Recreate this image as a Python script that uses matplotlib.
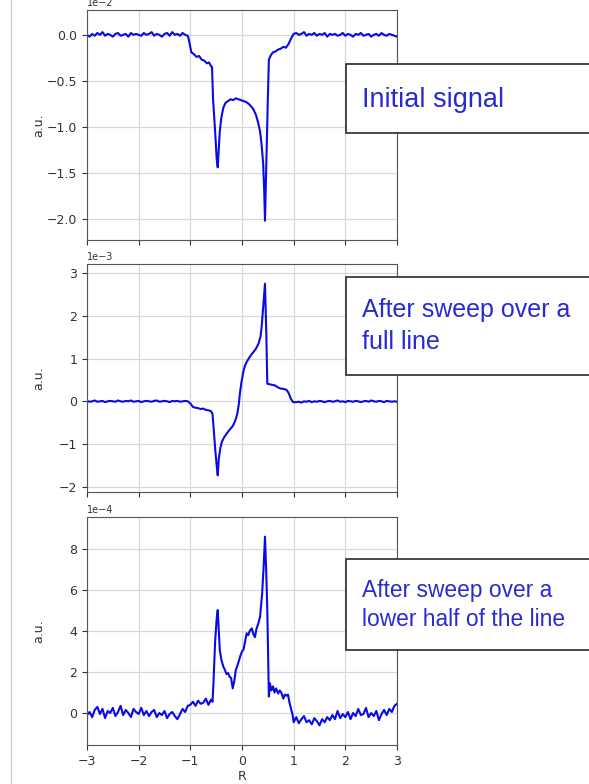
#!/usr/bin/env python3
import matplotlib
matplotlib.use('Agg')
import matplotlib.pyplot as plt
from matplotlib.patches import Rectangle
from matplotlib.lines import Line2D
import numpy as np

# ---- data ----
# baseline sample positions
left_x = np.round(np.arange(-3.0, -1.04, 0.05), 2)
right_x = np.round(np.arange(1.05, 3.001, 0.05), 2)

# panel 1: initial signal (x1e-2)
sig1_left = [0.00, -0.02, 0.01, -0.01, 0.02, 0.00, 0.03, -0.01, 0.01, 0.00,
             -0.02, 0.01, 0.02, -0.01, 0.00, 0.01, -0.02, 0.02, 0.00, 0.01,
             0.00, -0.01, 0.02, 0.00, 0.01, 0.03, -0.01, 0.01, 0.00, -0.02,
             0.01, 0.02, -0.01, 0.03, 0.00, 0.01, -0.01, 0.02, 0.00, -0.01]
sig1_mid_x = [-1.03, -0.98, -0.93, -0.88, -0.83, -0.78, -0.73, -0.68, -0.64, -0.60,
              -0.58, -0.56, -0.52, -0.49, -0.47, -0.45, -0.43, -0.40, -0.36, -0.32,
              -0.27, -0.22, -0.17, -0.12, -0.07, -0.02, 0.03, 0.08, 0.13, 0.18,
              0.22, 0.27, 0.31, 0.35, 0.38, 0.41, 0.43, 0.445, 0.47, 0.50,
              0.52, 0.56, 0.60, 0.65, 0.70, 0.75, 0.80, 0.85, 0.90, 0.95, 1.00]
sig1_mid = [-0.05, -0.19, -0.21, -0.24, -0.23, -0.27, -0.28, -0.31, -0.30, -0.34,
            -0.35, -0.70, -1.05, -1.35, -1.44, -1.25, -1.05, -0.90, -0.79, -0.74,
            -0.72, -0.70, -0.71, -0.69, -0.70, -0.71, -0.72, -0.73, -0.75, -0.78,
            -0.81, -0.87, -0.95, -1.05, -1.20, -1.40, -1.70, -2.02, -1.40, -0.70,
            -0.27, -0.22, -0.19, -0.18, -0.16, -0.15, -0.13, -0.14, -0.10, -0.04, 0.01]
sig1_right = [0.02, 0.00, 0.01, 0.03, -0.01, 0.01, 0.00, 0.02, -0.01, 0.01,
              0.00, 0.02, -0.02, 0.01, 0.00, 0.01, -0.01, 0.00, 0.02, -0.01,
              0.01, 0.00, -0.02, 0.01, 0.00, 0.02, -0.01, 0.00, 0.01, -0.02,
              0.00, 0.01, -0.01, 0.02, 0.00, -0.01, 0.01, 0.00, -0.01, -0.02]

# panel 2: after sweep over a full line (x1e-3)
sig2_left = [0.01, -0.01, 0.00, 0.02, -0.01, 0.00, 0.01, -0.02, 0.00, 0.01,
             0.00, -0.01, 0.02, 0.00, -0.01, 0.01, 0.00, 0.02, -0.01, 0.00,
             0.01, -0.02, 0.00, 0.01, 0.00, -0.01, 0.01, 0.02, -0.01, 0.00,
             0.01, 0.00, -0.02, 0.01, 0.00, 0.01, -0.01, 0.00, 0.01, 0.00]
sig2_mid_x = [-1.00, -0.95, -0.90, -0.85, -0.80, -0.75, -0.70, -0.65, -0.60, -0.57,
              -0.55, -0.52, -0.49, -0.47, -0.45, -0.42, -0.39, -0.35, -0.30, -0.25,
              -0.20, -0.17, -0.13, -0.09, -0.06, -0.04, -0.01, 0.03, 0.06, 0.09,
              0.14, 0.18, 0.22, 0.27, 0.32, 0.36, 0.38, 0.41, 0.445, 0.47,
              0.49, 0.53, 0.58, 0.64, 0.69, 0.74, 0.80, 0.86, 0.90, 0.95, 0.99]
sig2_mid = [-0.05, -0.13, -0.15, -0.16, -0.18, -0.17, -0.20, -0.21, -0.23, -0.30,
            -0.60, -1.10, -1.50, -1.73, -1.35, -1.10, -0.95, -0.85, -0.76, -0.68,
            -0.61, -0.56, -0.45, -0.29, -0.05, 0.19, 0.45, 0.72, 0.84, 0.92,
            1.02, 1.09, 1.15, 1.23, 1.35, 1.52, 1.74, 2.20, 2.75, 1.60,
            0.41, 0.40, 0.39, 0.37, 0.33, 0.30, 0.29, 0.27, 0.20, 0.05, -0.02]
sig2_right = [-0.02, -0.01, -0.03, 0.00, -0.01, 0.01, -0.02, 0.00, -0.01, 0.01,
              0.00, -0.02, 0.00, 0.01, -0.01, 0.00, 0.02, -0.01, 0.00, -0.02,
              0.01, 0.00, -0.01, 0.01, 0.00, -0.02, 0.00, 0.01, -0.01, 0.02,
              0.00, -0.01, 0.01, 0.00, -0.02, 0.01, 0.00, -0.01, 0.00, -0.01]

# panel 3: after sweep over a lower half of the line (x1e-4)
left_x3 = np.round(np.arange(-3.0, -1.19, 0.05), 2)
right_x3 = np.round(np.arange(1.0, 3.001, 0.05), 2)
sig3_left = [-0.10, 0.05, -0.20, 0.15, 0.30, -0.05, 0.20, -0.25, 0.10, 0.00,
             0.25, -0.15, 0.05, 0.35, -0.10, 0.15, 0.00, -0.20, 0.20, 0.05,
             -0.05, 0.25, -0.10, 0.10, -0.15, 0.05, 0.15, -0.20, 0.00, -0.10,
             0.10, -0.25, -0.05, 0.05, -0.15, -0.30, -0.05]
sig3_mid_x = [-1.15, -1.10, -1.05, -1.00, -0.95, -0.90, -0.85, -0.80, -0.75, -0.70,
              -0.65, -0.60, -0.57, -0.55, -0.52, -0.49, -0.47, -0.45, -0.43, -0.40,
              -0.36, -0.33, -0.30, -0.27, -0.24, -0.21, -0.18, -0.15, -0.12, -0.09,
              -0.06, -0.03, 0.00, 0.03, 0.06, 0.09, 0.12, 0.15, 0.19, 0.22,
              0.25, 0.28, 0.32, 0.35, 0.39, 0.42, 0.445, 0.47, 0.49, 0.51,
              0.52, 0.54, 0.57, 0.60, 0.63, 0.66, 0.70, 0.73, 0.76, 0.80,
              0.83, 0.86, 0.89, 0.92, 0.95, 0.98]
sig3_mid = [0.20, 0.05, 0.35, 0.40, 0.55, 0.35, 0.60, 0.45, 0.50, 0.70,
            0.40, 0.65, 0.55, 1.60, 3.50, 4.60, 5.02, 4.00, 3.07, 2.60,
            2.25, 2.10, 1.90, 1.95, 1.77, 1.70, 1.20, 1.55, 2.10, 2.30,
            2.55, 2.80, 3.00, 3.10, 3.50, 3.89, 3.80, 4.00, 4.13, 3.85,
            3.70, 4.10, 4.40, 4.70, 5.84, 7.20, 8.60, 6.80, 5.00, 2.00,
            0.80, 1.45, 1.10, 1.30, 1.00, 1.20, 0.95, 1.10, 1.00, 0.70,
            0.90, 0.85, 0.90, 0.50, 0.20, -0.10]
sig3_right = [-0.45, -0.20, -0.50, -0.30, -0.15, -0.45, -0.35, -0.55, -0.25, -0.40,
              -0.60, -0.30, -0.45, -0.20, -0.35, -0.10, -0.30, 0.10, -0.25, -0.05,
              -0.20, 0.05, -0.30, 0.00, -0.15, 0.20, -0.10, -0.05, 0.25, -0.20,
              0.00, -0.15, 0.10, -0.35, -0.05, 0.15, -0.10, 0.20, 0.05, 0.35, 0.45]

captions = ['Initial signal',
            'After sweep over a\nfull line',
            'After sweep over a\nlower half of the line']

x1 = np.concatenate([left_x, sig1_mid_x, right_x])
y1 = np.concatenate([sig1_left, sig1_mid, sig1_right]) * 1e-2
x2 = np.concatenate([left_x, sig2_mid_x, right_x])
y2 = np.concatenate([sig2_left, sig2_mid, sig2_right]) * 1e-3
x3 = np.concatenate([left_x3, sig3_mid_x, right_x3])
y3 = np.concatenate([sig3_left, sig3_mid, sig3_right]) * 1e-4

# ---- figure ----
W, H = 589, 784
fig = plt.figure(figsize=(W / 100, H / 100), dpi=100)
plt.rcParams['font.size'] = 8.5


def px_rect(left, top, right, bottom):
    return [left / W, 1 - bottom / H, (right - left) / W, (bottom - top) / H]


panels = [
    (x1, y1, px_rect(87, 10, 397, 240), (-2.23e-2, 0.27e-2)),
    (x2, y2, px_rect(87, 264, 397, 492), (-2.12e-3, 3.21e-3)),
    (x3, y3, px_rect(87, 517, 397, 745), (-1.56e-4, 9.56e-4)),
]

axes = []
for i, (xs, ys, rect, ylim) in enumerate(panels):
    ax = fig.add_axes(rect)
    ax.plot(xs, ys, color='#0a0ae6', lw=1.5)
    ax.set_xlim(-3, 3)
    ax.set_ylim(*ylim)
    ax.set_xticks([-3, -2, -1, 0, 1, 2, 3])
    ax.grid(True, color='#d8d8d8', lw=0.9)
    ax.set_axisbelow(True)
    for sp in ax.spines.values():
        sp.set_color('#555555')
    ax.ticklabel_format(axis='y', style='sci', scilimits=(0, 0))
    ax.tick_params(colors='#333333', labelsize=9)
    ax.yaxis.get_offset_text().set_fontsize(7)
    ax.yaxis.get_offset_text().set_color('#333333')
    ax.set_ylabel('a.u.', fontsize=9, color='#333333')
    ax.yaxis.set_label_coords(-0.135, 0.5)
    if i < 2:
        ax.tick_params(labelbottom=False)
    axes.append(ax)

axes[0].set_yticks([-2.0e-2, -1.5e-2, -1.0e-2, -0.5e-2, 0.0])
axes[1].set_yticks([-2e-3, -1e-3, 0, 1e-3, 2e-3, 3e-3])
axes[2].set_yticks([0, 2e-4, 4e-4, 6e-4, 8e-4])
axes[2].set_xlabel('R', fontsize=9, color='#333333', labelpad=2)

# caption boxes (they run past the right edge of the page)
boxes = [(346, 64, 133, 19.5, [100]),
         (346, 277, 375, 18, [310, 342]),
         (346, 559, 650, 16.4, [590, 619])]
for (left, top, bottom, fs, ys_txt), cap in zip(boxes, captions):
    fig.patches.append(Rectangle((left / W, 1 - bottom / H), (W + 20 - left) / W,
                                 (bottom - top) / H, transform=fig.transFigure,
                                 facecolor='white', edgecolor='#2a2a2a', lw=1.2,
                                 zorder=5))
    for line, yc in zip(cap.split('\n'), ys_txt):
        fig.text(362 / W, 1 - yc / H, line, fontsize=fs, color='#2a2ad2',
                 family='Liberation Sans', va='center', ha='left', zorder=6)

# slide border on the left
fig.lines.append(Line2D([11 / W, 11 / W], [0, 1], transform=fig.transFigure,
                        color='#cfcfcf', lw=1))

fig.savefig('out.png', dpi=100)
